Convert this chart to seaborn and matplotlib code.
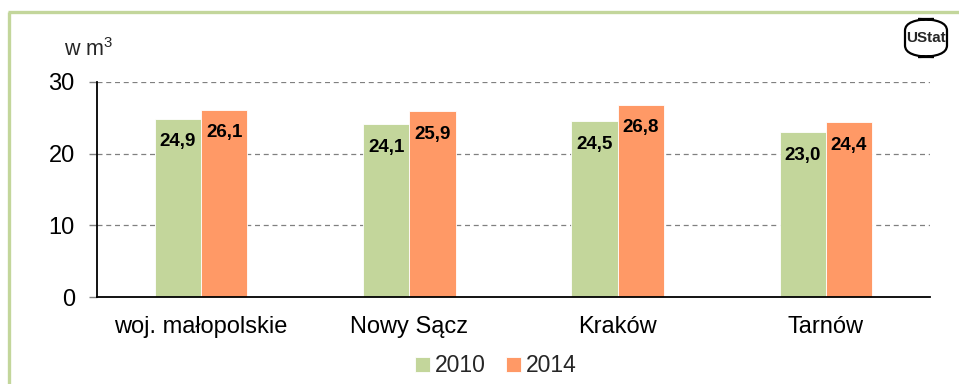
import matplotlib
matplotlib.use("Agg")
import matplotlib.pyplot as plt
from matplotlib.patches import FancyBboxPatch
from matplotlib.lines import Line2D
import seaborn as sns
import pandas as pd

categories = ["woj. małopolskie", "Nowy Sącz", "Kraków", "Tarnów"]
years = ["2010", "2014"]
values_2010 = [24.9, 24.1, 24.5, 23.0]
values_2014 = [26.1, 25.9, 26.8, 24.4]
y_ticks = [0, 10, 20, 30]
unit_label = "w m$^3$"

colors = {"2010": "#C3D69B", "2014": "#FF9966"}

df = pd.DataFrame({
    "region": categories * 2,
    "rok": [years[0]] * len(categories) + [years[1]] * len(categories),
    "wartosc": values_2010 + values_2014,
})

sns.set_theme(style="white")
plt.rcParams["font.family"] = ["Liberation Sans", "DejaVu Sans"]
plt.rcParams["mathtext.fontset"] = "custom"
plt.rcParams["mathtext.rm"] = "Liberation Sans"

fig = plt.figure(figsize=(9.59, 3.84), dpi=100)
ax = fig.add_axes([97 / 959, 1 - 297 / 384, (930 - 97) / 959, (297 - 82) / 384])

sns.barplot(data=df, x="region", y="wartosc", hue="rok", order=categories,
            hue_order=years, palette=colors, width=0.445, gap=0,
            linewidth=0.6, edgecolor="white", saturation=1, ax=ax, zorder=3)

ax.set_ylim(0, 30)
ax.set_xlim(-0.5, len(categories) - 0.5)
ax.set_yticks(y_ticks)
ax.set_yticklabels([str(t) for t in y_ticks], fontsize=17, color="black")
ax.set_xticks(range(len(categories)))
ax.set_xticklabels(categories, fontsize=17, color="black")
ax.set_xticks([i - 0.5 for i in range(len(categories) + 1)], minor=True)
ax.tick_params(axis="x", which="major", length=0, pad=14)
ax.tick_params(axis="x", which="minor", length=6, width=1, color="#808080", direction="out")
ax.tick_params(axis="y", which="major", length=6, width=1, color="#808080", direction="out", left=True, pad=10)
ax.set_xlabel("")
ax.set_ylabel("")

for t in y_ticks[1:]:
    ax.axhline(t, color="#808080", linestyle=(0, (4, 3)), linewidth=0.9, zorder=1)

for spine in ["top", "right"]:
    ax.spines[spine].set_visible(False)
for spine in ["left", "bottom"]:
    ax.spines[spine].set_color("black")
    ax.spines[spine].set_linewidth(1.3)
    ax.spines[spine].set_zorder(4)

# value labels placed inside the top of each bar
for container, yr in zip(ax.containers, years):
    vals = values_2010 if yr == "2010" else values_2014
    for patch, v in zip(container.patches, vals):
        cx = patch.get_x() + patch.get_width() / 2
        ax.annotate(f"{v:.1f}".replace(".", ","), xy=(cx, patch.get_height()),
                    xytext=(0, -16.5), textcoords="offset points",
                    ha="center", va="center", fontsize=13.5, fontweight="bold",
                    color="black", zorder=5)

leg = ax.legend(loc="center", bbox_to_anchor=(496 / 959, 1 - 366 / 384),
                bbox_transform=fig.transFigure, ncol=2, frameon=False,
                fontsize=16.5, handlelength=0.65, handleheight=0.65,
                handletextpad=0.2, columnspacing=0.9, borderpad=0)

fig.text(64 / 959, 1 - 50 / 384, unit_label, fontsize=15.5, ha="left", va="center")

# outer frame
fig.add_artist(Line2D([9 / 959, 9 / 959], [0, 1 - 12 / 384], color="#C3D69B", linewidth=2.4,
                      transform=fig.transFigure, solid_capstyle="butt"))
fig.add_artist(Line2D([8 / 959, 1], [1 - 12 / 384, 1 - 12 / 384], color="#C3D69B", linewidth=2.4,
                      transform=fig.transFigure, solid_capstyle="butt"))

# logo badge
logo = FancyBboxPatch((905 / 959, 1 - 57 / 384), 42 / 959, 38 / 384,
                      boxstyle="round,pad=0,rounding_size=0.03", transform=fig.transFigure,
                      facecolor="white", edgecolor="black", linewidth=1.6)
fig.add_artist(logo)
fig.text(926 / 959, 1 - 38 / 384, "UStat", fontsize=11, fontweight="bold", ha="center",
         va="center", family=["Liberation Sans Narrow", "Liberation Sans", "DejaVu Sans"])

fig.savefig("out.png", dpi=100)
